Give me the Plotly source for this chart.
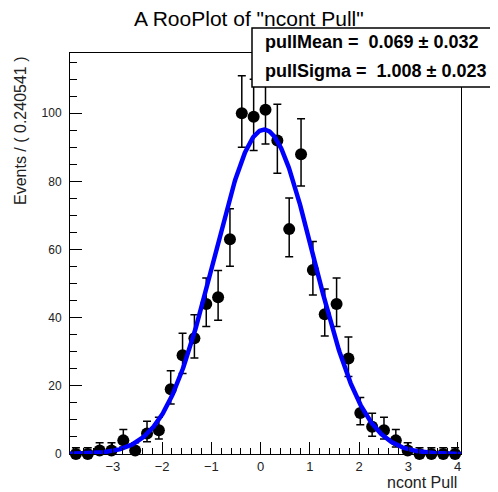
import math
import numpy as np
import plotly.graph_objects as go

# ---- data ----
x_min = -3.87
bin_width = 0.240541
counts = [0, 0, 1, 1, 4, 1, 6, 7, 19, 29, 34, 44, 46, 63, 100, 99, 101,
          92, 66, 88, 54, 41, 44, 28, 12, 8, 7, 4, 1, 0, 0, 0, 0]
pull_mean = 0.069
pull_mean_err = 0.032
pull_sigma = 1.008
pull_sigma_err = 0.023
x_tick_vals = [-3, -2, -1, 0, 1, 2, 3, 4]
y_tick_vals = [0, 20, 40, 60, 80, 100]

n_bins = len(counts)
x_max = x_min + n_bins * bin_width
centers = [x_min + (i + 0.5) * bin_width for i in range(n_bins)]
total = sum(counts)


# ---- Poisson (Garwood) 68% intervals, as RooFit draws them ----
def pois_cdf(k, mu):
    if k < 0:
        return 0.0
    if mu <= 0:
        return 1.0
    s = 0.0
    for i in range(k + 1):
        s += math.exp(-mu + i * math.log(mu) - math.lgamma(i + 1))
    return s


def solve(f, target, lo, hi, decreasing=True):
    for _ in range(80):
        mid = 0.5 * (lo + hi)
        v = f(mid)
        if (v > target) == decreasing:
            lo = mid
        else:
            hi = mid
    return 0.5 * (lo + hi)


alpha = 0.158655
err_hi, err_lo = [], []
for n in counts:
    up = solve(lambda m: pois_cdf(n, m), alpha, 0.0, n + 60.0)
    if n == 0:
        lo = 0.0
    else:
        lo = solve(lambda m: pois_cdf(n - 1, m), 1 - alpha, 0.0, n + 60.0)
    err_hi.append(up - n)
    err_lo.append(n - lo)

y_top = 1.05 * max(c + e for c, e in zip(counts, err_hi))

# ---- fitted gaussian curve ----
xc = np.linspace(x_min, x_max, 500)
norm = total * bin_width / (pull_sigma * math.sqrt(2 * math.pi))
yc = norm * np.exp(-0.5 * ((xc - pull_mean) / pull_sigma) ** 2)

fig = go.Figure()
fig.add_trace(go.Scatter(
    x=centers, y=counts, mode="markers",
    marker=dict(color="black", size=12),
    error_y=dict(type="data", symmetric=False, array=err_hi, arrayminus=err_lo,
                 color="black", thickness=1.5, width=4),
    showlegend=False, cliponaxis=False))
fig.add_trace(go.Scatter(
    x=xc, y=yc, mode="lines", line=dict(color="#0000ff", width=4.5),
    showlegend=False))

font = "Liberation Sans, Arial, Helvetica, sans-serif"
OFF = 8  # page body margin
W, H = 498 - OFF, 492 - OFF
L, T = 70 - OFF, 53 - OFF
R = W - (461 - OFF)
B = H - (454 - OFF)
pw, ph = W - L - R, H - T - B


def px(xp):
    return (xp - OFF - L) / pw


def py(yp):
    return (H - B - (yp - OFF)) / ph


fig.update_layout(
    width=W, height=H,
    margin=dict(l=L, r=R, t=T, b=B),
    paper_bgcolor="white", plot_bgcolor="white",
    font=dict(family=font, color="#222", size=12),
    xaxis=dict(range=[x_min, x_max], tickvals=x_tick_vals,
               ticks="inside", ticklen=12, tickwidth=1, tickcolor="black",
               minor=dict(dtick=0.2, ticks="inside", ticklen=6, tickcolor="black"),
               showgrid=False, zeroline=False, showline=True, linecolor="black",
               linewidth=1, mirror=True, tickfont=dict(size=13)),
    yaxis=dict(range=[0, y_top], tickvals=y_tick_vals,
               ticks="inside", ticklen=12, tickwidth=1, tickcolor="black",
               minor=dict(dtick=5, ticks="inside", ticklen=7, tickcolor="black"),
               showgrid=False, zeroline=False, showline=True, linecolor="black",
               linewidth=1, mirror=True, tickfont=dict(size=12),
               ticklabelstandoff=5),
)

# title
fig.add_annotation(text='A RooPlot of "ncont Pull"', xref="paper", yref="paper",
                   x=px(249), y=py(19), showarrow=False,
                   font=dict(size=21, color="black", family=font),
                   xanchor="center", yanchor="middle")
# axis titles
fig.add_annotation(text="Events / ( 0.240541 )", xref="paper", yref="paper",
                   x=px(20), y=py(131), showarrow=False, textangle=-90,
                   font=dict(size=16, color="#222", family=font),
                   xanchor="center", yanchor="middle")
fig.add_annotation(text="ncont Pull", xref="paper", yref="paper",
                   x=px(459), y=py(482), showarrow=False,
                   font=dict(size=16, color="#222", family=font),
                   xanchor="right", yanchor="middle")

# stats box
fig.add_shape(type="rect", xref="paper", yref="paper",
              x0=px(252), x1=px(497), y0=py(87), y1=py(28),
              line=dict(color="black", width=1.5), fillcolor="white", layer="above")
fig.add_annotation(text="<b>pullMean =  %.3f \u00b1 %.3f</b>" % (pull_mean, pull_mean_err),
                   xref="paper", yref="paper", x=px(263), y=py(42), showarrow=False,
                   font=dict(size=18, color="black", family=font),
                   xanchor="left", yanchor="middle")
fig.add_annotation(text="<b>pullSigma =  %.3f \u00b1 %.3f</b>" % (pull_sigma, pull_sigma_err),
                   xref="paper", yref="paper", x=px(263), y=py(71), showarrow=False,
                   font=dict(size=18, color="black", family=font),
                   xanchor="left", yanchor="middle")

fig.write_html("out.html")
